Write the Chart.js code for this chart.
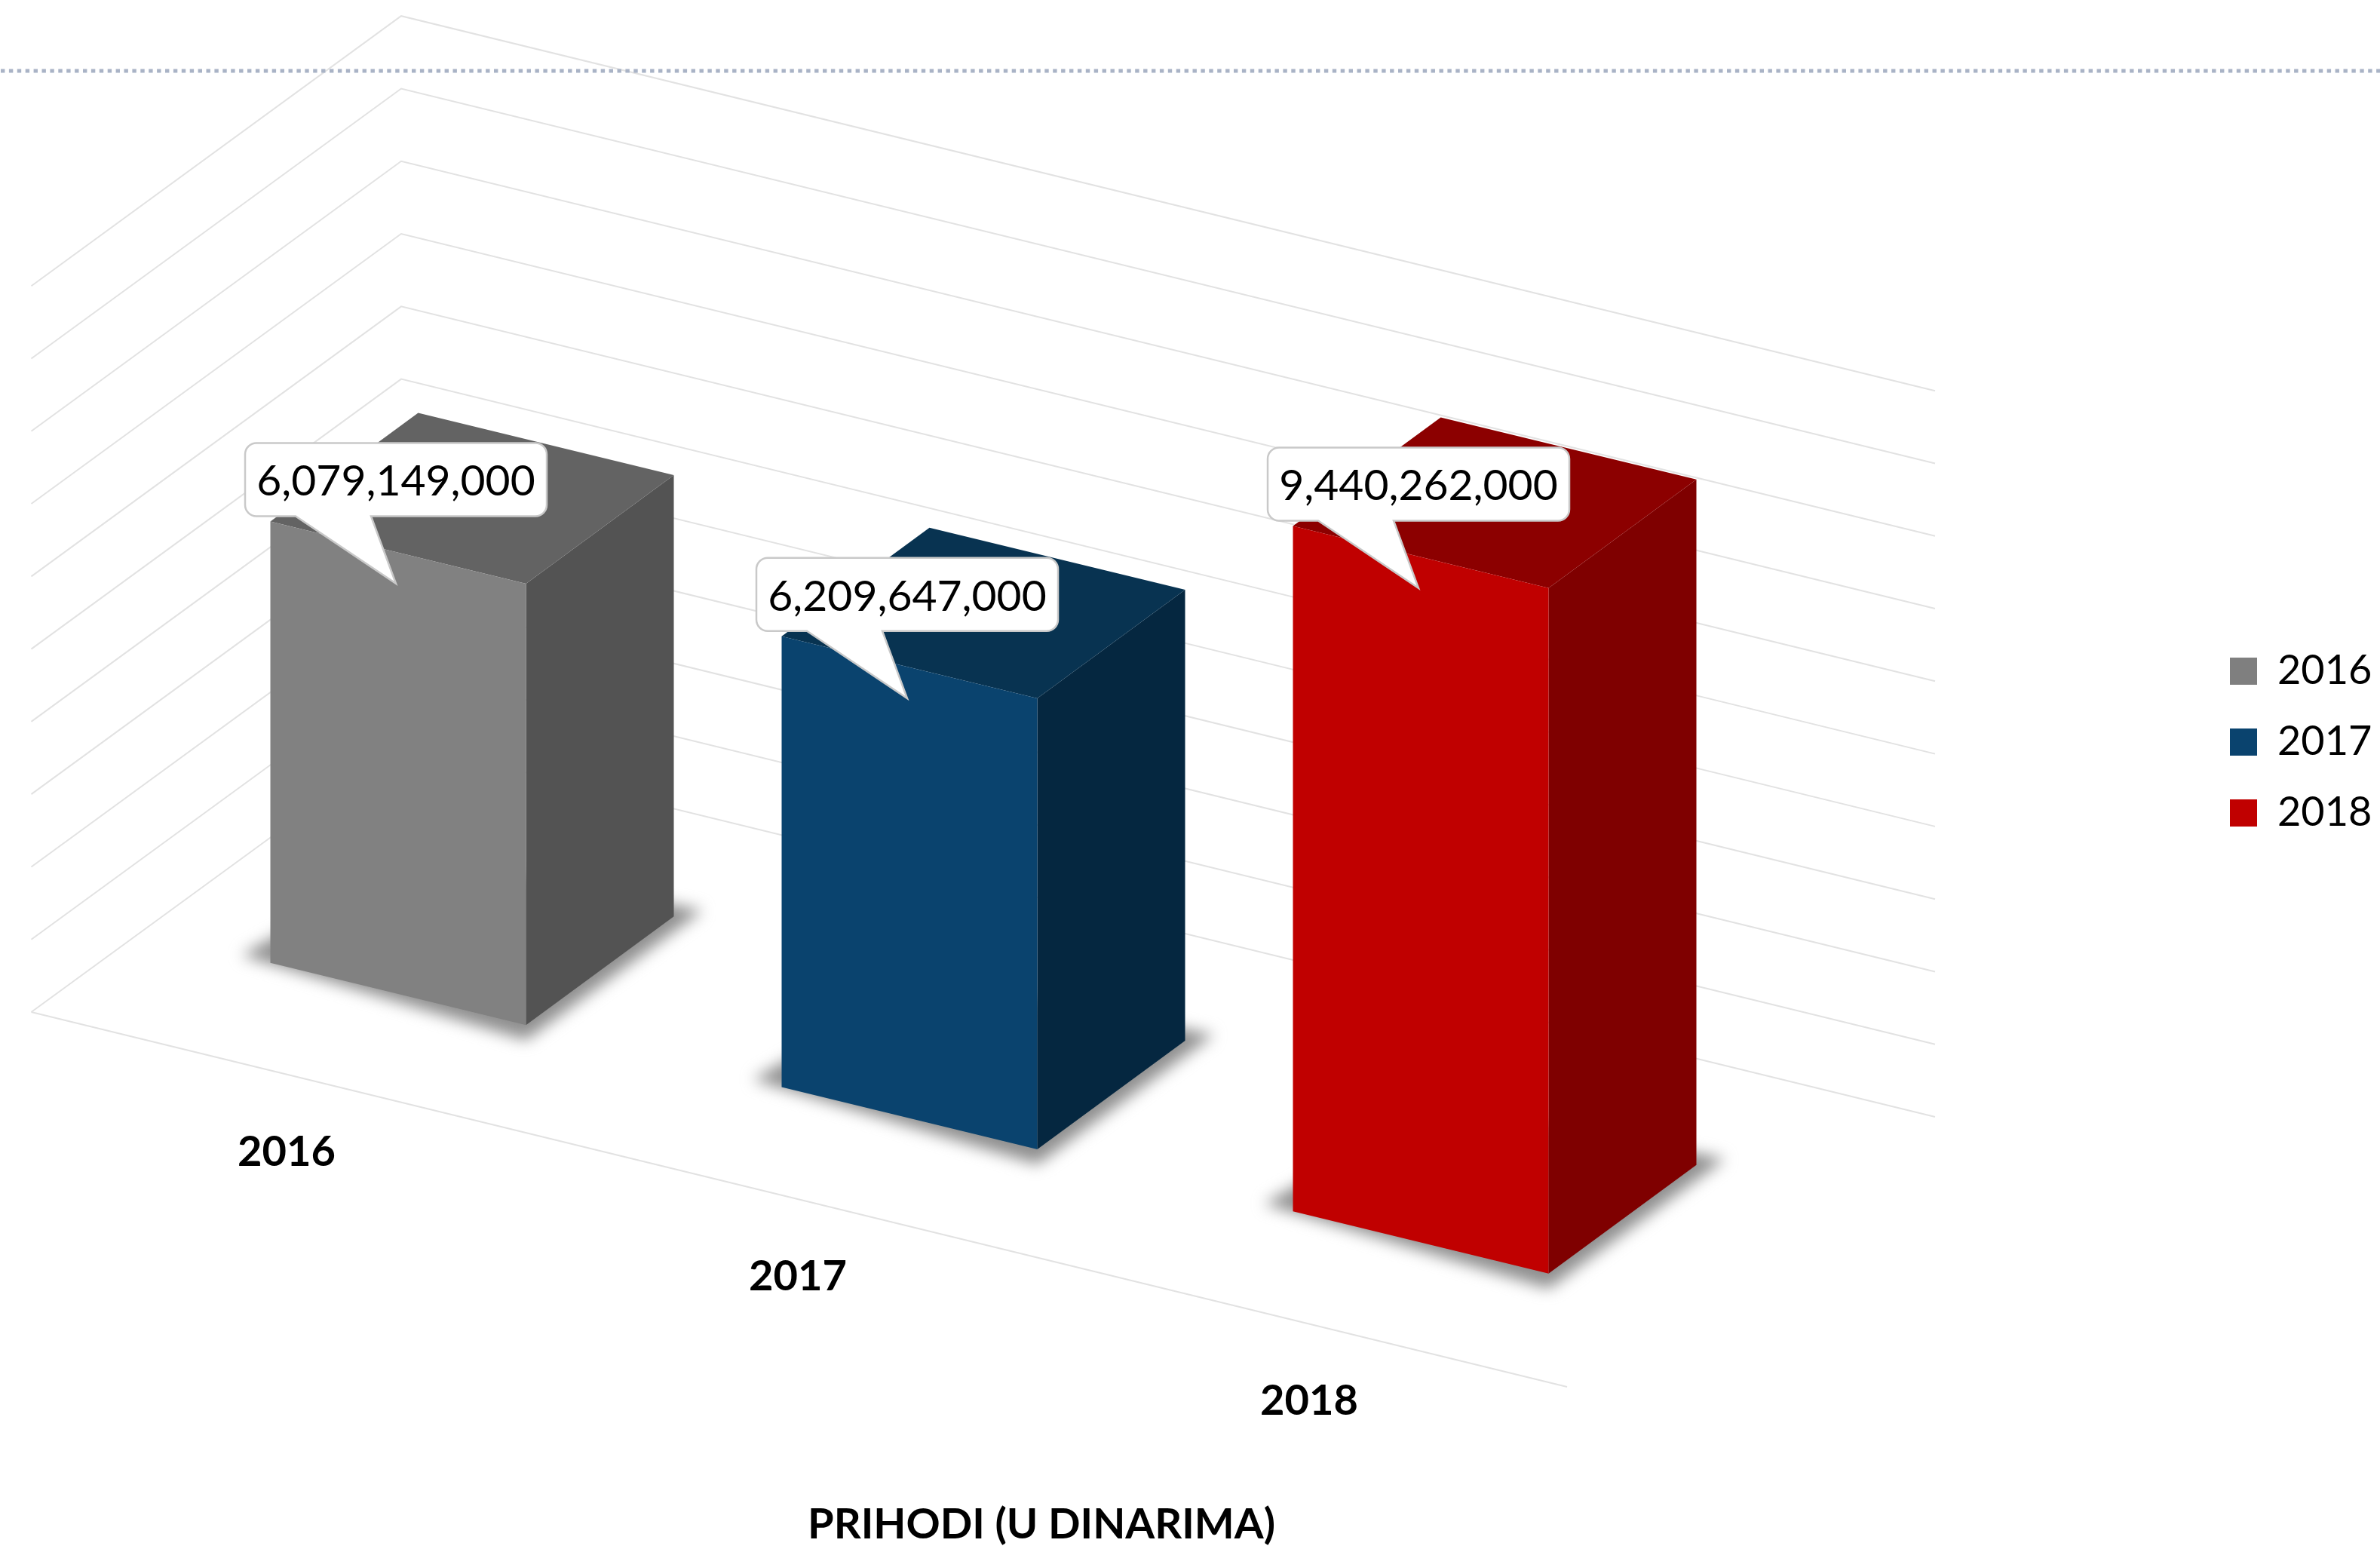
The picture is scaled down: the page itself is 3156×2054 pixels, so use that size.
<!DOCTYPE html>
<html>
<head>
<meta charset="utf-8">
<title>Prihodi</title>
<script src="https://cdn.jsdelivr.net/npm/chart.js@4"></script>
<style>
    html, body { margin: 0; padding: 0; background: #fff; }
    canvas { display: block; }
</style>
</head>
<body>
<canvas id="chart" width="3156" height="2054"></canvas>
<script>
const years = ['2016', '2017', '2018'];
const revenue = [6079149000, 6209647000, 9440262000];
const frontColors = ['#818181', '#0a436e', '#c00000'];
const sideColors = ['#535353', '#052740', '#7f0000'];
const topColors = ['#636363', '#083351', '#8c0000'];
const legendColors = ['#7f7f7f', '#0a436e', '#c00000'];
const axisTitle = 'PRIHODI (U DINARIMA)';

const FONT = 'Lato';
const skew = 0.243; // front faces run downhill to the right
const depth = { x: 196, y: -144 };
const wall = { leftX: 41.5, leftY: 1342, backX: 532, backY: 984, rightX: 2566, rightY: 1481, frontX: 2078, frontY: 1839 };

const poly = (ctx, pts) => {
    ctx.beginPath();
    pts.forEach((p, i) => (i ? ctx.lineTo(p[0], p[1]) : ctx.moveTo(p[0], p[1])));
    ctx.closePath();
};

const barCorners = el => {
    const l = el.x - el.width / 2;
    const r = el.x + el.width / 2;
    return {
        tl: [l, el.y + skew * l],
        tr: [r, el.y + skew * r],
        bl: [l, el.base + skew * l],
        br: [r, el.base + skew * r],
    };
};

const shift = (p, dx, dy) => [p[0] + dx, p[1] + dy];

const drawWalls = chart => {
    const { ctx, scales: { y } } = chart;
    const zero = y.getPixelForValue(0);
    ctx.save();
    ctx.strokeStyle = '#e2e2e2';
    ctx.lineWidth = 2;
    y.ticks.forEach(t => {
        const lift = y.getPixelForValue(t.value) - zero;
        ctx.beginPath();
        ctx.moveTo(wall.leftX, wall.leftY + lift);
        ctx.lineTo(wall.backX, wall.backY + lift);
        ctx.lineTo(wall.rightX, wall.rightY + lift);
        ctx.stroke();
    });
    ctx.beginPath();
    ctx.moveTo(wall.leftX, wall.leftY);
    ctx.lineTo(wall.frontX, wall.frontY);
    ctx.stroke();
    ctx.restore();

    // dotted rule across the top of the slide
    ctx.save();
    ctx.strokeStyle = '#a9b3c6';
    ctx.lineWidth = 5;
    ctx.setLineDash([5.4, 5.5]);
    ctx.beginPath();
    ctx.moveTo(1, 94);
    ctx.lineTo(3156, 94);
    ctx.stroke();
    ctx.restore();
};

const drawBox = (chart, el, i) => {
    const { ctx } = chart;
    const c = barCorners(el);
    const d = [depth.x, depth.y];

    // soft shadow on the floor
    ctx.save();
    ctx.filter = 'blur(10px)';
    ctx.fillStyle = '#8f8f8f';
    poly(ctx, [shift(c.bl, -38, -10), shift(c.br, 0, 20), shift(c.br, d[0] + 38, d[1] - 8), shift(c.bl, d[0], d[1])]);
    ctx.fill();
    ctx.restore();

    ctx.fillStyle = sideColors[i];
    poly(ctx, [c.tr, shift(c.tr, d[0], d[1]), shift(c.br, d[0], d[1]), c.br]);
    ctx.fill();

    ctx.fillStyle = topColors[i];
    poly(ctx, [c.tl, c.tr, shift(c.tr, d[0], d[1]), shift(c.tl, d[0], d[1])]);
    ctx.fill();
};

const drawCallout = (chart, el, i) => {
    const { ctx } = chart;
    const c = barCorners(el);
    const w = 400, h = 97, r = 15;
    const cx = el.x - 3;
    const left = cx - w / 2;
    const right = cx + w / 2;
    const bottom = c.tl[1] - 7;
    const top = bottom - h;
    const tip = [cx, c.tr[1]];

    ctx.save();
    ctx.beginPath();
    ctx.moveTo(left + r, top);
    ctx.arcTo(right, top, right, bottom, r);
    ctx.arcTo(right, bottom, left, bottom, r);
    ctx.lineTo(cx - 33, bottom);
    ctx.lineTo(tip[0], tip[1]);
    ctx.lineTo(cx - 133, bottom);
    ctx.arcTo(left, bottom, left, top, r);
    ctx.arcTo(left, top, right, top, r);
    ctx.closePath();
    ctx.fillStyle = '#fff';
    ctx.fill();
    ctx.strokeStyle = '#c9c9c9';
    ctx.lineWidth = 2.5;
    ctx.stroke();

    ctx.fillStyle = '#000';
    ctx.font = `57px ${FONT}`;
    ctx.textAlign = 'center';
    ctx.textBaseline = 'middle';
    ctx.fillText(revenue[i].toLocaleString('en-US'), cx, top + h / 2 + 3);
    ctx.restore();
};

const drawCategory = (chart, el, i) => {
    const { ctx } = chart;
    const c = barCorners(el);
    ctx.save();
    ctx.fillStyle = '#000';
    ctx.font = `bold 56px ${FONT}`;
    ctx.textAlign = 'center';
    ctx.textBaseline = 'middle';
    ctx.fillText(years[i], el.x - 148, (c.bl[1] + c.br[1]) / 2 + 210);
    ctx.restore();
};

const box3d = {
    id: 'box3d',
    afterLayout(chart) {
        // legend and title sit away from the plot rectangle
        const lg = chart.legend;
        lg.left = 2917; lg.right = 3156; lg.top = 823; lg.bottom = 1300;
        const tb = chart.titleBlock;
        tb.left = 981; tb.right = 1781; tb.top = 1994; tb.bottom = 2050;
    },
    beforeDatasetsDraw(chart) {
        const { ctx } = chart;
        drawWalls(chart);
        const bars = chart.getDatasetMeta(0).data;
        bars.forEach((el, i) => drawBox(chart, el, i));
        ctx.save();
        ctx.transform(1, skew, 0, 1, 0, 0);
    },
    afterDatasetsDraw(chart) {
        const { ctx } = chart;
        ctx.restore();
        const bars = chart.getDatasetMeta(0).data;
        bars.forEach((el, i) => drawCallout(chart, el, i));
        bars.forEach((el, i) => drawCategory(chart, el, i));
    },
};

new Chart(document.querySelector('#chart'), {
    type: 'bar',
    data: {
        labels: years,
        datasets: [{
            label: axisTitle,
            data: revenue,
            backgroundColor: frontColors,
            borderWidth: 0,
            barPercentage: 0.5,
            categoryPercentage: 1,
            clip: false,
        }],
    },
    options: {
        responsive: false,
        animation: false,
        devicePixelRatio: 1,
        layout: {
            autoPadding: false,
            padding: { left: 189, right: 933, top: 226.9, bottom: 808.3 },
        },
        scales: {
            x: { display: false },
            y: { display: false, min: 0, max: 10000000000, ticks: { stepSize: 1000000000 } },
        },
        plugins: {
            tooltip: { enabled: false },
            title: {
                display: true,
                text: axisTitle,
                position: 'bottom',
                color: '#000',
                padding: 0,
                font: { family: FONT, size: 56, weight: 'bold', lineHeight: 1 },
            },
            legend: {
                position: 'chartArea',
                align: 'start',
                labels: {
                    boxWidth: 36,
                    boxHeight: 36,
                    padding: 40,
                    color: '#000',
                    font: { family: FONT, size: 54 },
                    generateLabels: () => years.map((y, i) => ({
                        text: y,
                        fillStyle: legendColors[i],
                        strokeStyle: legendColors[i],
                        lineWidth: 0,
                        index: i,
                    })),
                },
            },
        },
    },
    plugins: [box3d],
});
</script>
</body>
</html>
